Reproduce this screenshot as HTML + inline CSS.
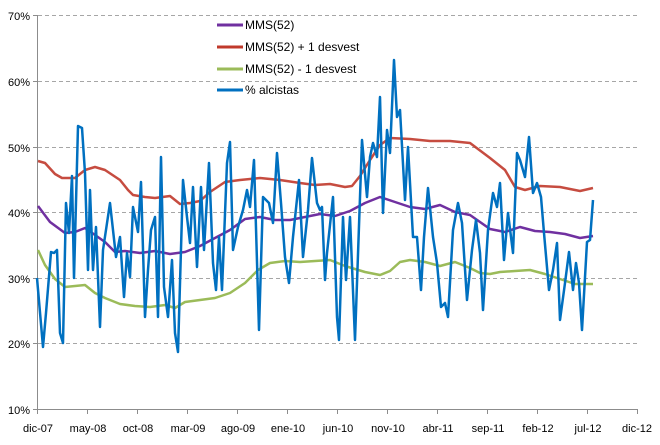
<!DOCTYPE html>
<html><head><meta charset="utf-8"><style>
html,body{margin:0;padding:0;background:#fff;}
svg{display:block;font-family:"Liberation Sans",Arial,sans-serif;}
</style></head><body>
<svg width="660" height="445" viewBox="0 0 660 445" xmlns="http://www.w3.org/2000/svg">
<rect width="660" height="445" fill="#fff"/>
<g stroke="#a6a6a6" stroke-width="1" stroke-dasharray="4,3">
<line x1="38" y1="15.5" x2="638" y2="15.5"/>
<line x1="38" y1="81.5" x2="638" y2="81.5"/>
<line x1="38" y1="147.5" x2="638" y2="147.5"/>
<line x1="38" y1="212.5" x2="638" y2="212.5"/>
<line x1="38" y1="278.5" x2="638" y2="278.5"/>
<line x1="38" y1="343.5" x2="638" y2="343.5"/>
</g>
<g stroke="#8c8c8c" stroke-width="1">
<line x1="37.5" y1="15" x2="37.5" y2="409"/>
<line x1="37" y1="409.5" x2="638" y2="409.5"/>
<line x1="33" y1="15.5" x2="38" y2="15.5"/><line x1="33" y1="81.5" x2="38" y2="81.5"/><line x1="33" y1="147.5" x2="38" y2="147.5"/><line x1="33" y1="212.5" x2="38" y2="212.5"/><line x1="33" y1="278.5" x2="38" y2="278.5"/><line x1="33" y1="343.5" x2="38" y2="343.5"/><line x1="33" y1="409.5" x2="38" y2="409.5"/>
<line x1="37.5" y1="409" x2="37.5" y2="414"/><line x1="87.5" y1="409" x2="87.5" y2="414"/><line x1="137.5" y1="409" x2="137.5" y2="414"/><line x1="187.5" y1="409" x2="187.5" y2="414"/><line x1="237.5" y1="409" x2="237.5" y2="414"/><line x1="287.5" y1="409" x2="287.5" y2="414"/><line x1="337.5" y1="409" x2="337.5" y2="414"/><line x1="387.5" y1="409" x2="387.5" y2="414"/><line x1="437.5" y1="409" x2="437.5" y2="414"/><line x1="487.5" y1="409" x2="487.5" y2="414"/><line x1="537.5" y1="409" x2="537.5" y2="414"/><line x1="587.5" y1="409" x2="587.5" y2="414"/><line x1="637.5" y1="409" x2="637.5" y2="414"/>
</g>
<g font-size="11" fill="#000" text-anchor="end">
<text x="30" y="20">70%</text><text x="30" y="86">60%</text><text x="30" y="152">50%</text><text x="30" y="217">40%</text><text x="30" y="283">30%</text><text x="30" y="348">20%</text><text x="30" y="414">10%</text>
</g>
<g font-size="11" fill="#000" text-anchor="middle">
<text x="38" y="432">dic-07</text><text x="88" y="432">may-08</text><text x="138" y="432">oct-08</text><text x="188" y="432">mar-09</text><text x="238" y="432">ago-09</text><text x="288" y="432">ene-10</text><text x="338" y="432">jun-10</text><text x="388" y="432">nov-10</text><text x="438" y="432">abr-11</text><text x="488" y="432">sep-11</text><text x="538" y="432">feb-12</text><text x="588" y="432">jul-12</text><text x="637" y="432">dic-12</text>
</g>
<g fill="none" stroke-width="2.5" stroke-linejoin="round">
<polyline stroke="#c0392b" stroke-opacity="0.9" points="38,161 45,163 55,174 62,178 75,178 85,170 95,167 105,170 120,180 128,190 133,195 145,197 155,198 170,196 180,204 190,203 200,201 210,192 225,182 240,180 260,178 280,180 300,183 315,185 330,184 345,187 352,186 360,176 370,160 380,145 390,138 410,139 430,141 450,141 470,143 490,158 505,170 515,187 525,190 540,186 560,187 580,191 593,188"/>
<polyline stroke="#7030a0" points="38,206 50,222 65,233 75,232 85,228 95,235 105,242 115,252 125,251 140,253 155,251 170,254 185,252 200,246 215,238 230,230 245,219 260,217 275,220 290,220 305,217 320,214 335,216 350,211 365,203 380,197 395,202 410,207 425,209 440,205 455,212 470,215 490,229 505,232 520,227 535,231 550,232 565,234 580,238 593,236"/>
<polyline stroke="#9bbb59" points="38,250 45,265 55,279 65,287 75,286 85,285 95,293 105,298 120,304 135,306 150,307 165,305 175,308 185,302 200,300 215,298 230,293 245,283 258,270 270,263 285,261 300,262 315,261 330,260 345,266 365,272 380,275 390,271 400,262 410,260 425,262 440,266 455,262 470,268 480,273 490,274 500,272 515,271 530,270 545,274 560,279 575,284 593,284"/>
<polyline stroke="#0070c0" points="37,278 43,347 46,313 51,252 54,253 57,250 60,333 63,343 66,203 69,233 72,176 74,278 78,126 82,128 85,173 88,270 90,190 93,270 96,227 100,327 103,250 110,203 116,257 120,237 124,297 127,253 130,277 133,207 138,232 141,182 145,317 148,270 151,230 155,217 158,317 161,157 164,287 168,317 172,260 175,333 178,352 183,180 187,217 190,243 193,187 197,267 201,187 204,250 209,163 213,263 216,290 219,237 222,290 227,163 230,142 233,250 238,227 243,210 247,190 250,207 254,160 259,330 263,197 269,203 273,223 277,153 281,203 285,257 289,283 293,237 299,180 303,257 308,210 312,158 317,203 320,210 322,207 325,280 327,253 333,197 337,317 339,340 343,217 346,280 350,217 355,340 362,140 367,197 370,157 373,143 377,157 380,97 383,213 387,130 390,153 394,60 397,117 400,110 405,200 408,147 413,237 417,237 421,290 424,237 428,188 433,237 437,263 441,307 445,303 448,317 453,230 458,203 462,223 467,300 472,250 476,220 480,253 483,310 488,230 493,193 497,207 500,183 504,260 508,213 513,253 517,153 520,160 525,177 529,137 533,193 537,183 541,197 544,233 549,290 553,270 557,243 560,320 565,283 569,252 573,290 576,263 579,283 582,330 587,242 590,240 593,200"/>
</g>
<g stroke-width="3">
<line x1="217" y1="25" x2="243" y2="25" stroke="#7030a0"/>
<line x1="217" y1="47" x2="243" y2="47" stroke="#c0392b"/>
<line x1="217" y1="69" x2="243" y2="69" stroke="#9bbb59"/>
<line x1="217" y1="90" x2="243" y2="90" stroke="#0070c0"/>
</g>
<g font-size="12" fill="#000">
<text x="245" y="29">MMS(52)</text>
<text x="245" y="51">MMS(52) + 1 desvest</text>
<text x="245" y="73">MMS(52) - 1 desvest</text>
<text x="245" y="94">% alcistas</text>
</g>
</svg>
</body></html>
